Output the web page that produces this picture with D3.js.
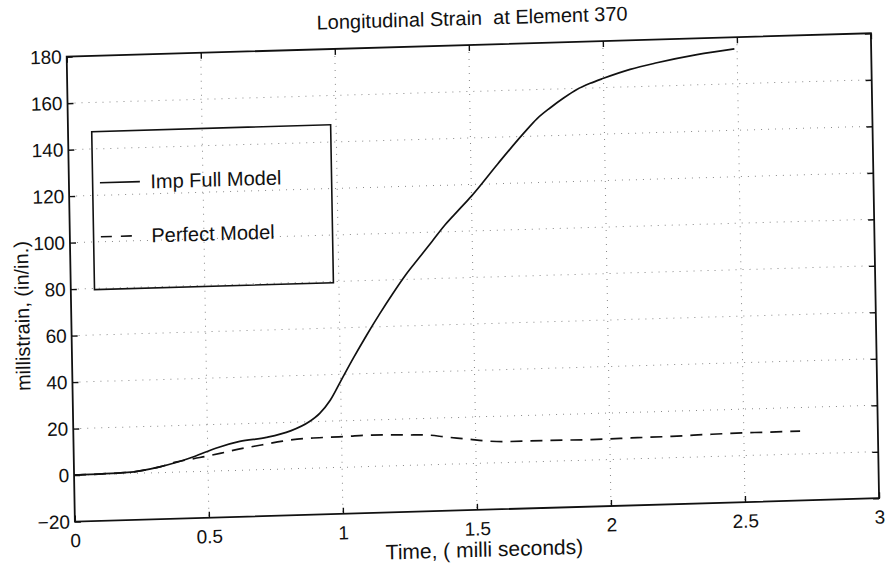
<!DOCTYPE html>
<html>
<head>
<meta charset="utf-8">
<script src="https://cdn.jsdelivr.net/npm/d3@7"></script>
<style>
  body { margin: 0; background: #fff; }
  text { font-family: "Liberation Sans", Arial, Helvetica, sans-serif; fill: #111; }
</style>
</head>
<body>
<div id="chart"></div>
<script>
// Data (time in ms, strain in millistrain)
const impTime = [0, 0.2, 0.32, 0.45, 0.53, 0.62, 0.72, 0.81, 0.88, 0.92, 0.96, 1.0, 1.05, 1.1, 1.15, 1.2, 1.25, 1.3, 1.35, 1.4, 1.45, 1.5, 1.6, 1.7, 1.75, 1.8, 1.85, 1.9, 1.95, 2.0, 2.1, 2.2, 2.35, 2.49];
const impStrain = [0, 0.5, 2.5, 6.5, 9.8, 12.4, 13.8, 16.3, 20, 23.5, 29, 37, 47, 56.5, 65.5, 74, 82, 89, 96, 103, 109, 115, 128.5, 141.5, 147.5, 152, 156, 159.5, 162, 164, 167.5, 170, 173, 175];

const perfTime = [0, 0.2, 0.32, 0.38, 0.47, 0.55, 0.62, 0.7, 0.78, 0.87, 0.95, 1.02, 1.09, 1.17, 1.24, 1.32, 1.39, 1.47, 1.54, 1.62, 1.7, 1.77, 1.93, 2.08, 2.23, 2.38, 2.54, 2.71];
const perfStrain = [0, 0.5, 2.5, 4.3, 6, 7.6, 9.2, 10.6, 12, 12.9, 13.1, 13.2, 13.5, 13.4, 13.1, 12.8, 11.7, 10.6, 9.5, 9.0, 9.0, 9.0, 8.8, 9.0, 9.2, 9.6, 9.8, 9.8];

const xTicks = [0, 0.5, 1, 1.5, 2, 2.5, 3];
const yTicks = [-20, 0, 20, 40, 60, 80, 100, 120, 140, 160, 180];
const legendLabels = ['Imp Full Model', 'Perfect Model'];

const W = 804.5, H = 465;

const svg = d3.select('#chart')
  .append('svg')
  .attr('width', 887)
  .attr('height', 565);

// the scan is slightly tilted, so the whole figure sits in a skewed group
const g = svg.append('g')
  .attr('transform', 'matrix(0.9996,-0.0291,0.0176,0.9998,66.7,56.7)');

const x = d3.scaleLinear().domain([0, 3]).range([0, W]);
const y = d3.scaleLinear().domain([-20, 180]).range([H, 0]);

// dotted grid
g.append('g')
  .selectAll('line')
  .data(xTicks.slice(1, -1))
  .enter()
  .append('line')
  .attr('x1', d => x(d)).attr('x2', d => x(d))
  .attr('y1', 0).attr('y2', H)
  .attr('stroke', '#888')
  .attr('stroke-dasharray', '1,6');

g.append('g')
  .selectAll('line')
  .data(yTicks.slice(1, -1))
  .enter()
  .append('line')
  .attr('x1', 0).attr('x2', W)
  .attr('y1', d => y(d)).attr('y2', d => y(d))
  .attr('stroke', '#888')
  .attr('stroke-dasharray', '1,6');

// axes, ticks pointing inward
const fmt = d3.format('');
g.append('g')
  .attr('transform', `translate(0,${H})`)
  .call(d3.axisBottom(x).tickValues(xTicks).tickFormat(fmt).tickSizeInner(-6).tickSizeOuter(0).tickPadding(12));
g.append('g')
  .call(d3.axisLeft(y).tickValues(yTicks).tickFormat(fmt).tickSizeInner(-6).tickSizeOuter(0).tickPadding(5));
g.append('g')
  .call(d3.axisTop(x).tickValues(xTicks).tickFormat('').tickSizeInner(-6).tickSizeOuter(0));
g.append('g')
  .attr('transform', `translate(${W},0)`)
  .call(d3.axisRight(y).tickValues(yTicks).tickFormat('').tickSizeInner(-6).tickSizeOuter(0));

g.selectAll('.domain').remove();
g.selectAll('.tick line').attr('stroke', '#111').attr('stroke-width', 1.4);
g.selectAll('.tick text')
  .style('font-size', '19px')
  .style('font-family', '"Liberation Sans", Arial, sans-serif')
  .attr('fill', '#111');

// frame
g.append('rect')
  .attr('x', 0).attr('y', 0)
  .attr('width', W).attr('height', H)
  .attr('fill', 'none')
  .attr('stroke', '#111')
  .attr('stroke-width', 1.8);

// curves
const line = d3.line()
  .x(d => x(d[0]))
  .y(d => y(d[1]))
  .curve(d3.curveMonotoneX);

g.append('path')
  .datum(d3.zip(impTime, impStrain))
  .attr('d', line)
  .attr('fill', 'none')
  .attr('stroke', '#111')
  .attr('stroke-width', 1.7);

g.append('path')
  .datum(d3.zip(perfTime, perfStrain))
  .attr('d', line)
  .attr('fill', 'none')
  .attr('stroke', '#111')
  .attr('stroke-width', 1.7)
  .attr('stroke-dasharray', '12,8');

// legend
const leg = g.append('g');
leg.append('rect')
  .attr('x', 23.7).attr('y', 75.7)
  .attr('width', 239).attr('height', 158)
  .attr('fill', 'none')
  .attr('stroke', '#111')
  .attr('stroke-width', 1.6);

const legRows = [127, 181];
legendLabels.forEach((name, i) => {
  leg.append('line')
    .attr('x1', 31).attr('x2', 71)
    .attr('y1', legRows[i]).attr('y2', legRows[i])
    .attr('stroke', '#111')
    .attr('stroke-width', 1.6)
    .attr('stroke-dasharray', i === 1 ? '11,9' : null);
  leg.append('text')
    .attr('x', 81.5)
    .attr('y', legRows[i] + 7)
    .style('font-size', '20px')
    .text(name);
});

// title and labels
g.append('text')
  .attr('x', 406).attr('y', -20)
  .attr('text-anchor', 'middle')
  .style('font-size', '20px')
  .style('white-space', 'pre')
  .text('Longitudinal Strain  at Element 370');

g.append('text')
  .attr('x', 409).attr('y', 512)
  .attr('text-anchor', 'middle')
  .style('font-size', '21px')
  .text('Time, ( milli seconds)');

g.append('text')
  .attr('transform', 'translate(-42,258) rotate(-90)')
  .attr('text-anchor', 'middle')
  .style('font-size', '20px')
  .text('millistrain, (in/in.)');
</script>
</body>
</html>
